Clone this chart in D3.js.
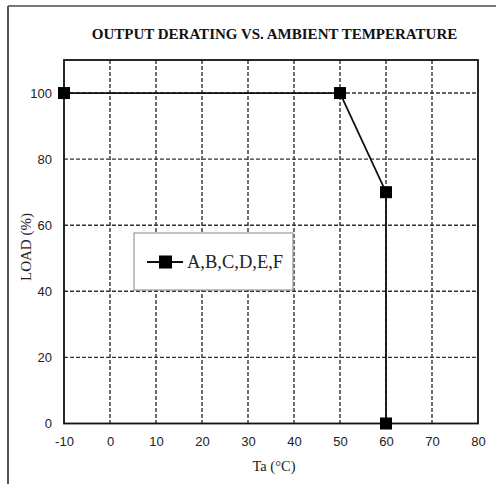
<!DOCTYPE html>
<html>
<head>
<meta charset="utf-8">
<script src="https://cdn.jsdelivr.net/npm/d3@7"></script>
<style>
  html, body { margin: 0; padding: 0; background: #fff; }
  svg { display: block; }
</style>
</head>
<body>
<div id="chart"></div>
<script>
// Derating curve: ambient temperature (°C) vs. permitted load (%)
const temps = [-10, 50, 60, 60];
const loads = [100, 100, 70, 0];
const xTicks = [-10, 0, 10, 20, 30, 40, 50, 60, 70, 80];
const yTicks = [0, 20, 40, 60, 80, 100];
const seriesName = "A,B,C,D,E,F";
const titleText = "OUTPUT DERATING VS. AMBIENT TEMPERATURE";

const W = 496, H = 484;
const plot = { left: 64, right: 478, top: 60, bottom: 423.5 };
const serif = "'Liberation Serif', 'Times New Roman', serif";
const sans = "'Liberation Sans', Arial, sans-serif";

const svg = d3.select("#chart").append("svg")
  .attr("width", W).attr("height", H);

// page frame (top and left edges)
svg.append("line").attr("x1", 8).attr("x2", W).attr("y1", 6).attr("y2", 6)
  .attr("stroke", "#777").attr("stroke-width", 2);
svg.append("line").attr("x1", 8).attr("x2", 8).attr("y1", 6).attr("y2", H)
  .attr("stroke", "#555").attr("stroke-width", 2);

const x = d3.scaleLinear().domain([-10, 80]).range([plot.left, plot.right]);
const y = d3.scaleLinear().domain([0, 110]).range([plot.bottom, plot.top]);

// title
svg.append("text")
  .attr("x", 274.5).attr("y", 39)
  .attr("text-anchor", "middle")
  .attr("font-family", serif)
  .attr("font-weight", "bold")
  .attr("font-size", 15)
  .attr("fill", "#111")
  .text(titleText);

// dashed grid
const grid = svg.append("g").attr("stroke", "#333").attr("stroke-width", 1.4)
  .attr("stroke-dasharray", "4,2");
grid.selectAll(".vx").data(xTicks.filter(d => d > -10 && d < 80)).join("line")
  .attr("x1", d => x(d)).attr("x2", d => x(d))
  .attr("y1", plot.top).attr("y2", plot.bottom);
grid.selectAll(".hy").data(yTicks.filter(d => d > 0)).join("line")
  .attr("x1", plot.left).attr("x2", plot.right)
  .attr("y1", d => y(d)).attr("y2", d => y(d));

// plot frame
svg.append("rect")
  .attr("x", plot.left).attr("y", plot.top)
  .attr("width", plot.right - plot.left).attr("height", plot.bottom - plot.top)
  .attr("fill", "none").attr("stroke", "#111").attr("stroke-width", 1.8);

// axes (labels only; frame drawn above)
const xAxis = svg.append("g").attr("transform", `translate(0,${plot.bottom})`)
  .call(d3.axisBottom(x).tickValues(xTicks).tickSize(0).tickPadding(13)
    .tickFormat(d => String(d)));
const yAxis = svg.append("g").attr("transform", `translate(${plot.left},0)`)
  .call(d3.axisLeft(y).tickValues(yTicks).tickSize(0).tickPadding(12)
    .tickFormat(d => String(d)));
[xAxis, yAxis].forEach(g => {
  g.select(".domain").remove();
  g.selectAll("text")
    .attr("font-family", sans)
    .attr("font-size", 13).attr("fill", "#222");
});

// axis titles
svg.append("text")
  .attr("x", 274).attr("y", 471)
  .attr("text-anchor", "middle")
  .attr("font-family", serif)
  .attr("font-size", 14.5).attr("fill", "#222")
  .text("Ta (°C)");
svg.append("text")
  .attr("transform", "translate(31,247) rotate(-90)")
  .attr("text-anchor", "middle")
  .attr("font-family", serif)
  .attr("font-size", 15).attr("fill", "#222")
  .text("LOAD (%)");

// series line and markers
const pts = temps.map((t, i) => [t, loads[i]]);
svg.append("path")
  .datum(pts)
  .attr("d", d3.line().x(d => x(d[0])).y(d => y(d[1])))
  .attr("fill", "none").attr("stroke", "#111").attr("stroke-width", 1.8);
const ms = 12;
svg.selectAll(".pt").data(pts).join("rect")
  .attr("x", d => x(d[0]) - ms / 2).attr("y", d => y(d[1]) - ms / 2)
  .attr("width", ms).attr("height", ms).attr("fill", "#000");

// legend
const lg = svg.append("g");
lg.append("rect").attr("x", 134).attr("y", 233).attr("width", 159).attr("height", 57)
  .attr("fill", "#fff").attr("stroke", "#999").attr("stroke-width", 1.2);
lg.append("line").attr("x1", 147).attr("x2", 183).attr("y1", 262).attr("y2", 262)
  .attr("stroke", "#111").attr("stroke-width", 1.8);
lg.append("rect").attr("x", 159).attr("y", 255.5).attr("width", 13).attr("height", 13)
  .attr("fill", "#000");
lg.append("text").attr("x", 187).attr("y", 268)
  .attr("font-family", serif)
  .attr("font-size", 18.5).attr("fill", "#222")
  .text(seriesName);
</script>
</body>
</html>
